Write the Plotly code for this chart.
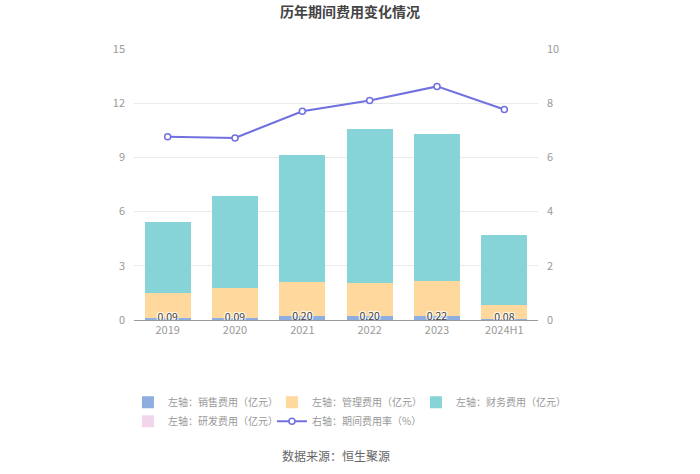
import plotly.graph_objects as go

categories = ["2019", "2020", "2021", "2022", "2023", "2024H1"]
sales = [0.09, 0.09, 0.20, 0.20, 0.22, 0.08]
management = [1.42, 1.70, 1.93, 1.87, 1.94, 0.77]
finance = [3.93, 5.09, 7.03, 8.49, 8.12, 3.88]
research = [0, 0, 0, 0, 0, 0]
rate = [6.76, 6.72, 7.70, 8.10, 8.62, 7.77]
sales_labels = ["0.09", "0.09", "0.20", "0.20", "0.22", "0.08"]

FONT = "Noto Sans CJK SC"
fig = go.Figure()
fig.add_trace(go.Bar(x=categories, y=sales, name="左轴：销售费用（亿元）",
                     marker=dict(color="#8eaee0", line_width=0)))
fig.add_trace(go.Bar(x=categories, y=management, name="左轴：管理费用（亿元）",
                     marker=dict(color="#fed89c", line_width=0)))
fig.add_trace(go.Bar(x=categories, y=finance, name="左轴：财务费用（亿元）",
                     marker=dict(color="#87d4d8", line_width=0)))
fig.add_trace(go.Bar(x=categories, y=research, name="左轴：研发费用（亿元）",
                     marker=dict(color="#f2d5ec", line_width=0)))
fig.add_trace(go.Scatter(x=categories, y=[v / 2 + 0.05 for v in sales], mode="text",
                         text=sales_labels, showlegend=False, hoverinfo="skip",
                         textfont=dict(size=10.5, color="#444", family=FONT,
                                       shadow="1px 1px 1px #fff, -1px -1px 1px #fff, 1px -1px 1px #fff, -1px 1px 1px #fff")))
fig.add_trace(go.Scatter(x=categories, y=rate, name="右轴：期间费用率（%）", yaxis="y2",
                         mode="lines+markers",
                         line=dict(color="#7070e0", width=2),
                         marker=dict(symbol="circle", size=6, color="#ffffff",
                                     line=dict(color="#7070e0", width=1.5))))

fig.update_layout(
    width=700, height=474,
    margin=dict(l=134, r=162, t=49, b=154, autoexpand=False),
    paper_bgcolor="#ffffff", plot_bgcolor="#ffffff",
    barmode="stack", bargap=0.32,
    font=dict(family=FONT, size=11, color="#999"),
    title=dict(text="<b>历年期间费用变化情况</b>", x=0.5, xanchor="center", y=0.985, yanchor="top",
               font=dict(size=14, color="#444", family=FONT)),
    xaxis=dict(showgrid=False, showline=True, linecolor="#999", linewidth=1,
               ticks="", tickfont=dict(size=11, color="#999"), fixedrange=True),
    yaxis=dict(range=[0, 15], tickvals=[0, 3, 6, 9, 12, 15], showgrid=True,
               gridcolor="#ebebeb", zeroline=False, showline=False, ticks="",
               tickfont=dict(size=11, color="#999"), ticklabelstandoff=8),
    yaxis2=dict(range=[0, 10], tickvals=[0, 2, 4, 6, 8, 10], overlaying="y", side="right",
                showgrid=False, zeroline=False, showline=False, ticks="",
                tickfont=dict(size=11, color="#999"), ticklabelstandoff=8),
    legend=dict(orientation="h", x=-0.015, xanchor="left", y=-0.25, yanchor="top",
                entrywidth=99, entrywidthmode="pixels", traceorder="normal",
                font=dict(size=10, color="#999", family=FONT)),
    annotations=[dict(text="数据来源：恒生聚源", x=0.5, xref="paper", y=-0.5, yref="paper",
                      xanchor="center", yanchor="middle", showarrow=False,
                      font=dict(size=12, color="#666", family=FONT))],
)

fig.write_html("out.html", config={"displayModeBar": False},
               post_script="document.body.style.margin='0px';")
